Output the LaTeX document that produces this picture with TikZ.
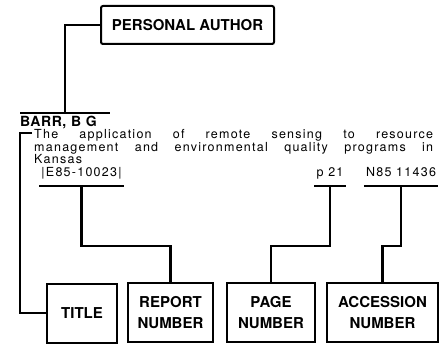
\documentclass[tikz,border=0pt]{standalone}
\usepackage{fontspec}
\setmainfont{TeX Gyre Heros}
\newfontfamily\citefont[LetterSpace=10]{TeX Gyre Heros}
\newfontfamily\namefont[LetterSpace=4]{TeX Gyre Heros}

\begin{document}
\begin{tikzpicture}[
  x=1pt,y=-1pt,
  every node/.style={inner sep=0pt},
  tag/.style={draw,line width=2pt,align=center,
    font=\bfseries\fontsize{15}{21}\selectfont,minimum height=59pt},
  field/.style={font=\citefont\fontsize{12.5}{12.7}\selectfont,
    inner xsep=2pt,anchor=base},
  lead/.style={line width=2.2pt},
  rule/.style={line width=2.2pt}
]
  \useasboundingbox (0,0) rectangle (442,345);
  \node[tag,rounded corners=2pt,minimum width=173pt,minimum height=38pt]
    (pa) at (187.5,25) {PERSONAL AUTHOR};
  \node[anchor=north west,text width=90pt,inner ysep=3pt,text height=10pt,
    text depth=1pt,font=\namefont\bfseries\fontsize{14}{16}\selectfont]
    (auth) at (20,113) {BARR, B G};
  \node[anchor=north west,text width=399pt,align=justify,
    font=\citefont\fontsize{12.5}{12.7}\selectfont] (title) at (34,129)
    {The application of remote sensing to resource\linebreak
     management and environmental quality programs in\linebreak
     Kansas};
  \node[field] (repno) at (81.5,176) {|E85-10023|};
  \node[field] (pageno) at (330,176) {p 21};
  \node[field] (accno) at (401,176) {N85 11436};

  \node[tag,minimum width=70pt] (titlebox) at (82,313) {TITLE};
  \node[tag,minimum width=85pt] (repbox) at (170.5,312.5) {REPORT\\NUMBER};
  \node[tag,minimum width=88pt] (pagebox) at (271,312.5) {PAGE\\NUMBER};
  \node[tag,minimum width=111pt] (accbox) at (382.5,312.5) {ACCESSION\\NUMBER};

  \coordinate (elbow) at (0,246);
  \coordinate (tdash) at (32,133);
  \coordinate (tcorner) at (20,313);

  \draw[rule] (auth.north west) -- (auth.north east);
  \draw[rule] ([yshift=-10pt]repno.base west) -- ([yshift=-10pt]repno.base east);
  \draw[rule] ([yshift=-10pt]pageno.base west) -- ([yshift=-10pt]pageno.base east);
  \draw[rule] ([yshift=-10pt]accno.base west) -- ([yshift=-10pt]accno.base east);

  \draw[lead] (pa.west) -| (auth.north);
  \draw[lead] (tdash) -| (tcorner) -- (titlebox.west);
  \draw[lead] ([yshift=-10pt]repno.base) -- (repno |- elbow) -| (repbox.north);
  \draw[lead] ([yshift=-10pt]pageno.base) -- (pageno |- elbow) -| (pagebox.north);
  \draw[lead] ([yshift=-10pt]accno.base) -- (accno |- elbow) -| (accbox.north);
\end{tikzpicture}
\end{document}
